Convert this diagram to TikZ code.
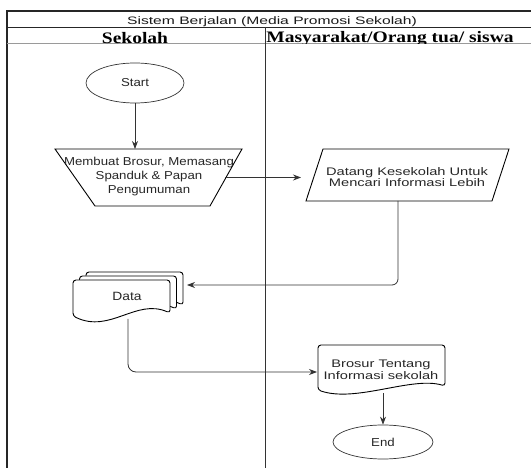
\documentclass[tikz,border=0pt]{standalone}
\usepackage{fontspec}
\setmainfont{Liberation Sans}
\newfontfamily\sfA[FakeStretch=1.15]{Liberation Sans}
\newfontfamily\sfB[FakeStretch=1.33]{Liberation Sans}
\newfontfamily\sfT[FakeStretch=1.45]{Liberation Sans}
\newfontfamily\hdr[FakeStretch=1.22]{Liberation Serif}
\usetikzlibrary{shapes.geometric,arrows.meta}
\definecolor{txt}{HTML}{262626}
\definecolor{hline}{HTML}{9A9A9A}
\tikzset{
  frame/.style={line width=1.1pt, draw=black!85},
  shapeline/.style={draw=black, line width=0.9pt},
  lbl/.style={text=txt, align=center, inner sep=0pt},
  conn/.style={draw=black!80, line width=0.8pt, -{Stealth[length=8pt,width=6pt]}},
  termbox/.style={ellipse, draw=black!80, line width=0.7pt, inner sep=0pt, text=txt}
}
\begin{document}
\begin{tikzpicture}[x=1pt,y=-1pt]
\useasboundingbox (0,0) rectangle (531,468);
% frame
\draw[frame] (531,11) -- (7,11) -- (7,468);
\draw[frame] (7,27.5) -- (531,27.5);
\draw[draw=hline, line width=1.4pt] (7,43.8) -- (531,43.8);
\draw[line width=0.9pt, draw=black!80] (265,27.5) -- (265,468);
\node[font=\sfT\fontsize{10.8pt}{12pt}\selectfont, text=black!90, anchor=base] (title) at (272,25) {Sistem Berjalan (Media Promosi Sekolah)};
\begin{scope}
\clip (7.5,28.3) rectangle (531,43.1);
\node[font=\hdr\bfseries\fontsize{16pt}{18pt}\selectfont, anchor=base, inner sep=0pt] (h1) at (135,43.2) {Sekolah};
\node[font=\hdr\bfseries\fontsize{16pt}{18pt}\selectfont, anchor=base, inner sep=0pt] (h2) at (390,42.6) {Masyarakat/Orang tua/ siswa};
\end{scope}
% start
\node[termbox, minimum width=98pt, minimum height=40pt, font=\sfA\fontsize{11.5pt}{13pt}\selectfont] (start) at (135,83) {Start};
% trapezoid
\draw[shapeline] (55,149) -- (242,149) -- (210,206) -- (95,206) -- cycle;
\node[lbl, font=\sfA\fontsize{11.5pt}{14pt}\selectfont] (proc) at (149,177) {Membuat Brosur, Memasang\\Spanduk \& Papan\\Pengumuman};
\coordinate (procT) at (135,149);
\coordinate (procR) at (225,177.5);
% parallelogram
\draw[shapeline] (323,149) -- (509,149) -- (492,201) -- (306,201) -- cycle;
\node[lbl, font=\sfB\fontsize{11pt}{11.8pt}\selectfont] (par) at (407,177) {Datang Kesekolah Untuk\\Mencari Informasi Lebih};
\coordinate (parL) at (301,177.5);
\coordinate (parB) at (398,201);
% data multi-document
\foreach \dx/\dy in {13/8, 6.5/4, 0/0}{
  \draw[shapeline, fill=white, rounded corners=3pt, xshift=\dx pt, yshift=\dy pt]
    (73,316) -- (73,280) -- (170,280) -- (170,313)
    .. controls (136,298) and (110,334) .. (73,316) -- cycle;
}
\node[lbl, font=\sfA\fontsize{12pt}{13pt}\selectfont] (data) at (127,296) {Data};
\coordinate (dataR) at (187,285);
\coordinate (dataB) at (128,319);
% brosur document
\draw[shapeline, rounded corners=3pt] (318,390) -- (318,345) -- (445,345) -- (445,386)
  .. controls (412,376) and (356,403) .. (318,390) -- cycle;
\node[lbl, font=\sfB\fontsize{11pt}{11.8pt}\selectfont] (doc) at (381,370) {Brosur Tentang\\Informasi sekolah};
\coordinate (docL) at (317,372);
\coordinate (docB) at (383,393);
% end
\node[termbox, minimum width=100pt, minimum height=34pt, font=\sfA\fontsize{11.5pt}{13pt}\selectfont] (end) at (383,442) {End};
% connectors
\draw[conn] (start.south) -- (procT);
\draw[conn] (procR) -- (parL);
\draw[conn, rounded corners=6pt] (parB) -- (parB |- dataR) -- (dataR);
\draw[conn, rounded corners=8pt] (dataB) -- (dataB |- docL) -- (docL);
\draw[conn] (docB) -- (end.north);
\end{tikzpicture}
\end{document}
